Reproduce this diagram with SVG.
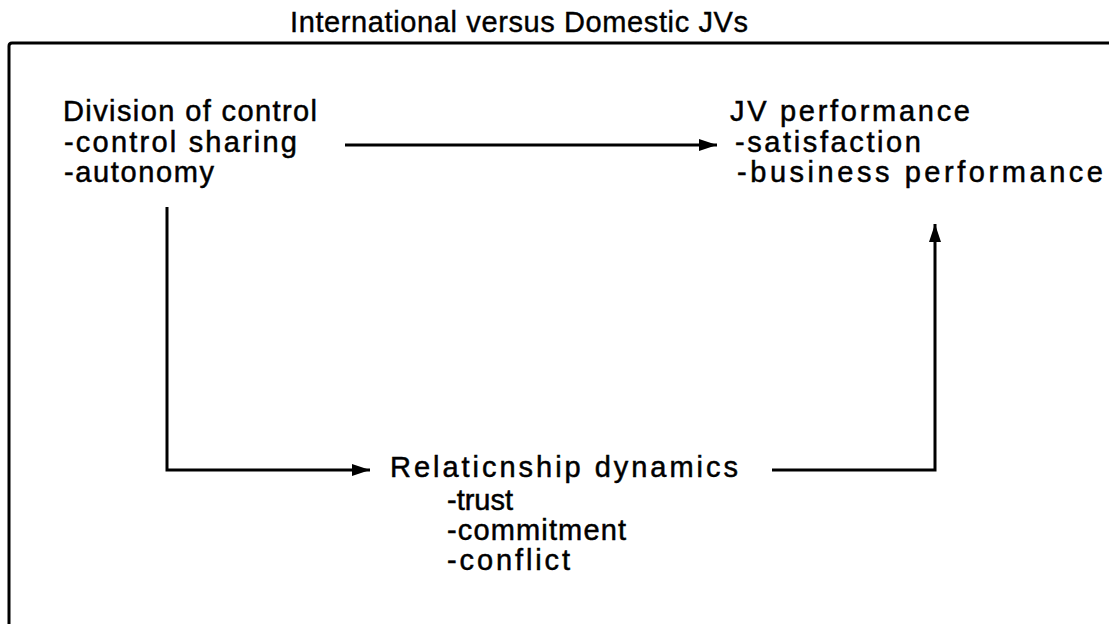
<svg xmlns="http://www.w3.org/2000/svg" width="1109" height="624" viewBox="0 0 1109 624">
  <style>
    .t { font-family: "Liberation Sans", Arial, Helvetica, sans-serif; font-size: 29px; fill: #000; stroke: #000; stroke-width: 0.5; }
    .title { font-family: "Liberation Sans", Arial, Helvetica, sans-serif; font-size: 29px; fill: #000; stroke: #000; stroke-width: 0.4; }
    .wire { fill: none; stroke: #000; stroke-width: 3; }
  </style>
  <defs>
    <marker id="arrow" markerUnits="userSpaceOnUse" markerWidth="20" markerHeight="14" refX="18" refY="7" orient="auto">
      <path d="M0,1 L18,7 L0,13 Z" fill="#000"/>
    </marker>
  </defs>

  <rect width="1109" height="624" fill="#fff"/>

  <!-- title -->
  <text class="title" x="290" y="32" textLength="458" lengthAdjust="spacing">International versus Domestic JVs</text>

  <!-- frame: top and left edges -->
  <path class="wire" d="M9,624 L9,46 Q9,43 12,43 L1109,43"/>

  <g id="division-of-control">
    <text class="t" x="63" y="121" textLength="254" lengthAdjust="spacing">Division of control</text>
    <text class="t" x="64" y="152" textLength="233" lengthAdjust="spacing">-control sharing</text>
    <text class="t" x="64" y="182" textLength="150" lengthAdjust="spacing">-autonomy</text>
  </g>

  <g id="jv-performance">
    <text class="t" x="730" y="121" textLength="240" lengthAdjust="spacing">JV performance</text>
    <text class="t" x="735" y="152" textLength="186" lengthAdjust="spacing">-satisfaction</text>
    <text class="t" x="737" y="182" textLength="366" lengthAdjust="spacing">-business performance</text>
  </g>

  <g id="relationship-dynamics">
    <text class="t" x="390" y="477" textLength="348" lengthAdjust="spacing">Relaticnship dynamics</text>
    <text class="t" x="447" y="510" textLength="66" lengthAdjust="spacing">-trust</text>
    <text class="t" x="447" y="540" textLength="179" lengthAdjust="spacing">-commitment</text>
    <text class="t" x="447" y="570" textLength="123" lengthAdjust="spacing">-conflict</text>
  </g>

  <g id="connectors">
    <path class="wire" d="M345,145 L717,145" marker-end="url(#arrow)"/>
    <path class="wire" d="M167,207 L167,470 L370,470" marker-end="url(#arrow)"/>
    <path class="wire" d="M772,470 L935,470 L935,224" marker-end="url(#arrow)"/>
  </g>
</svg>
